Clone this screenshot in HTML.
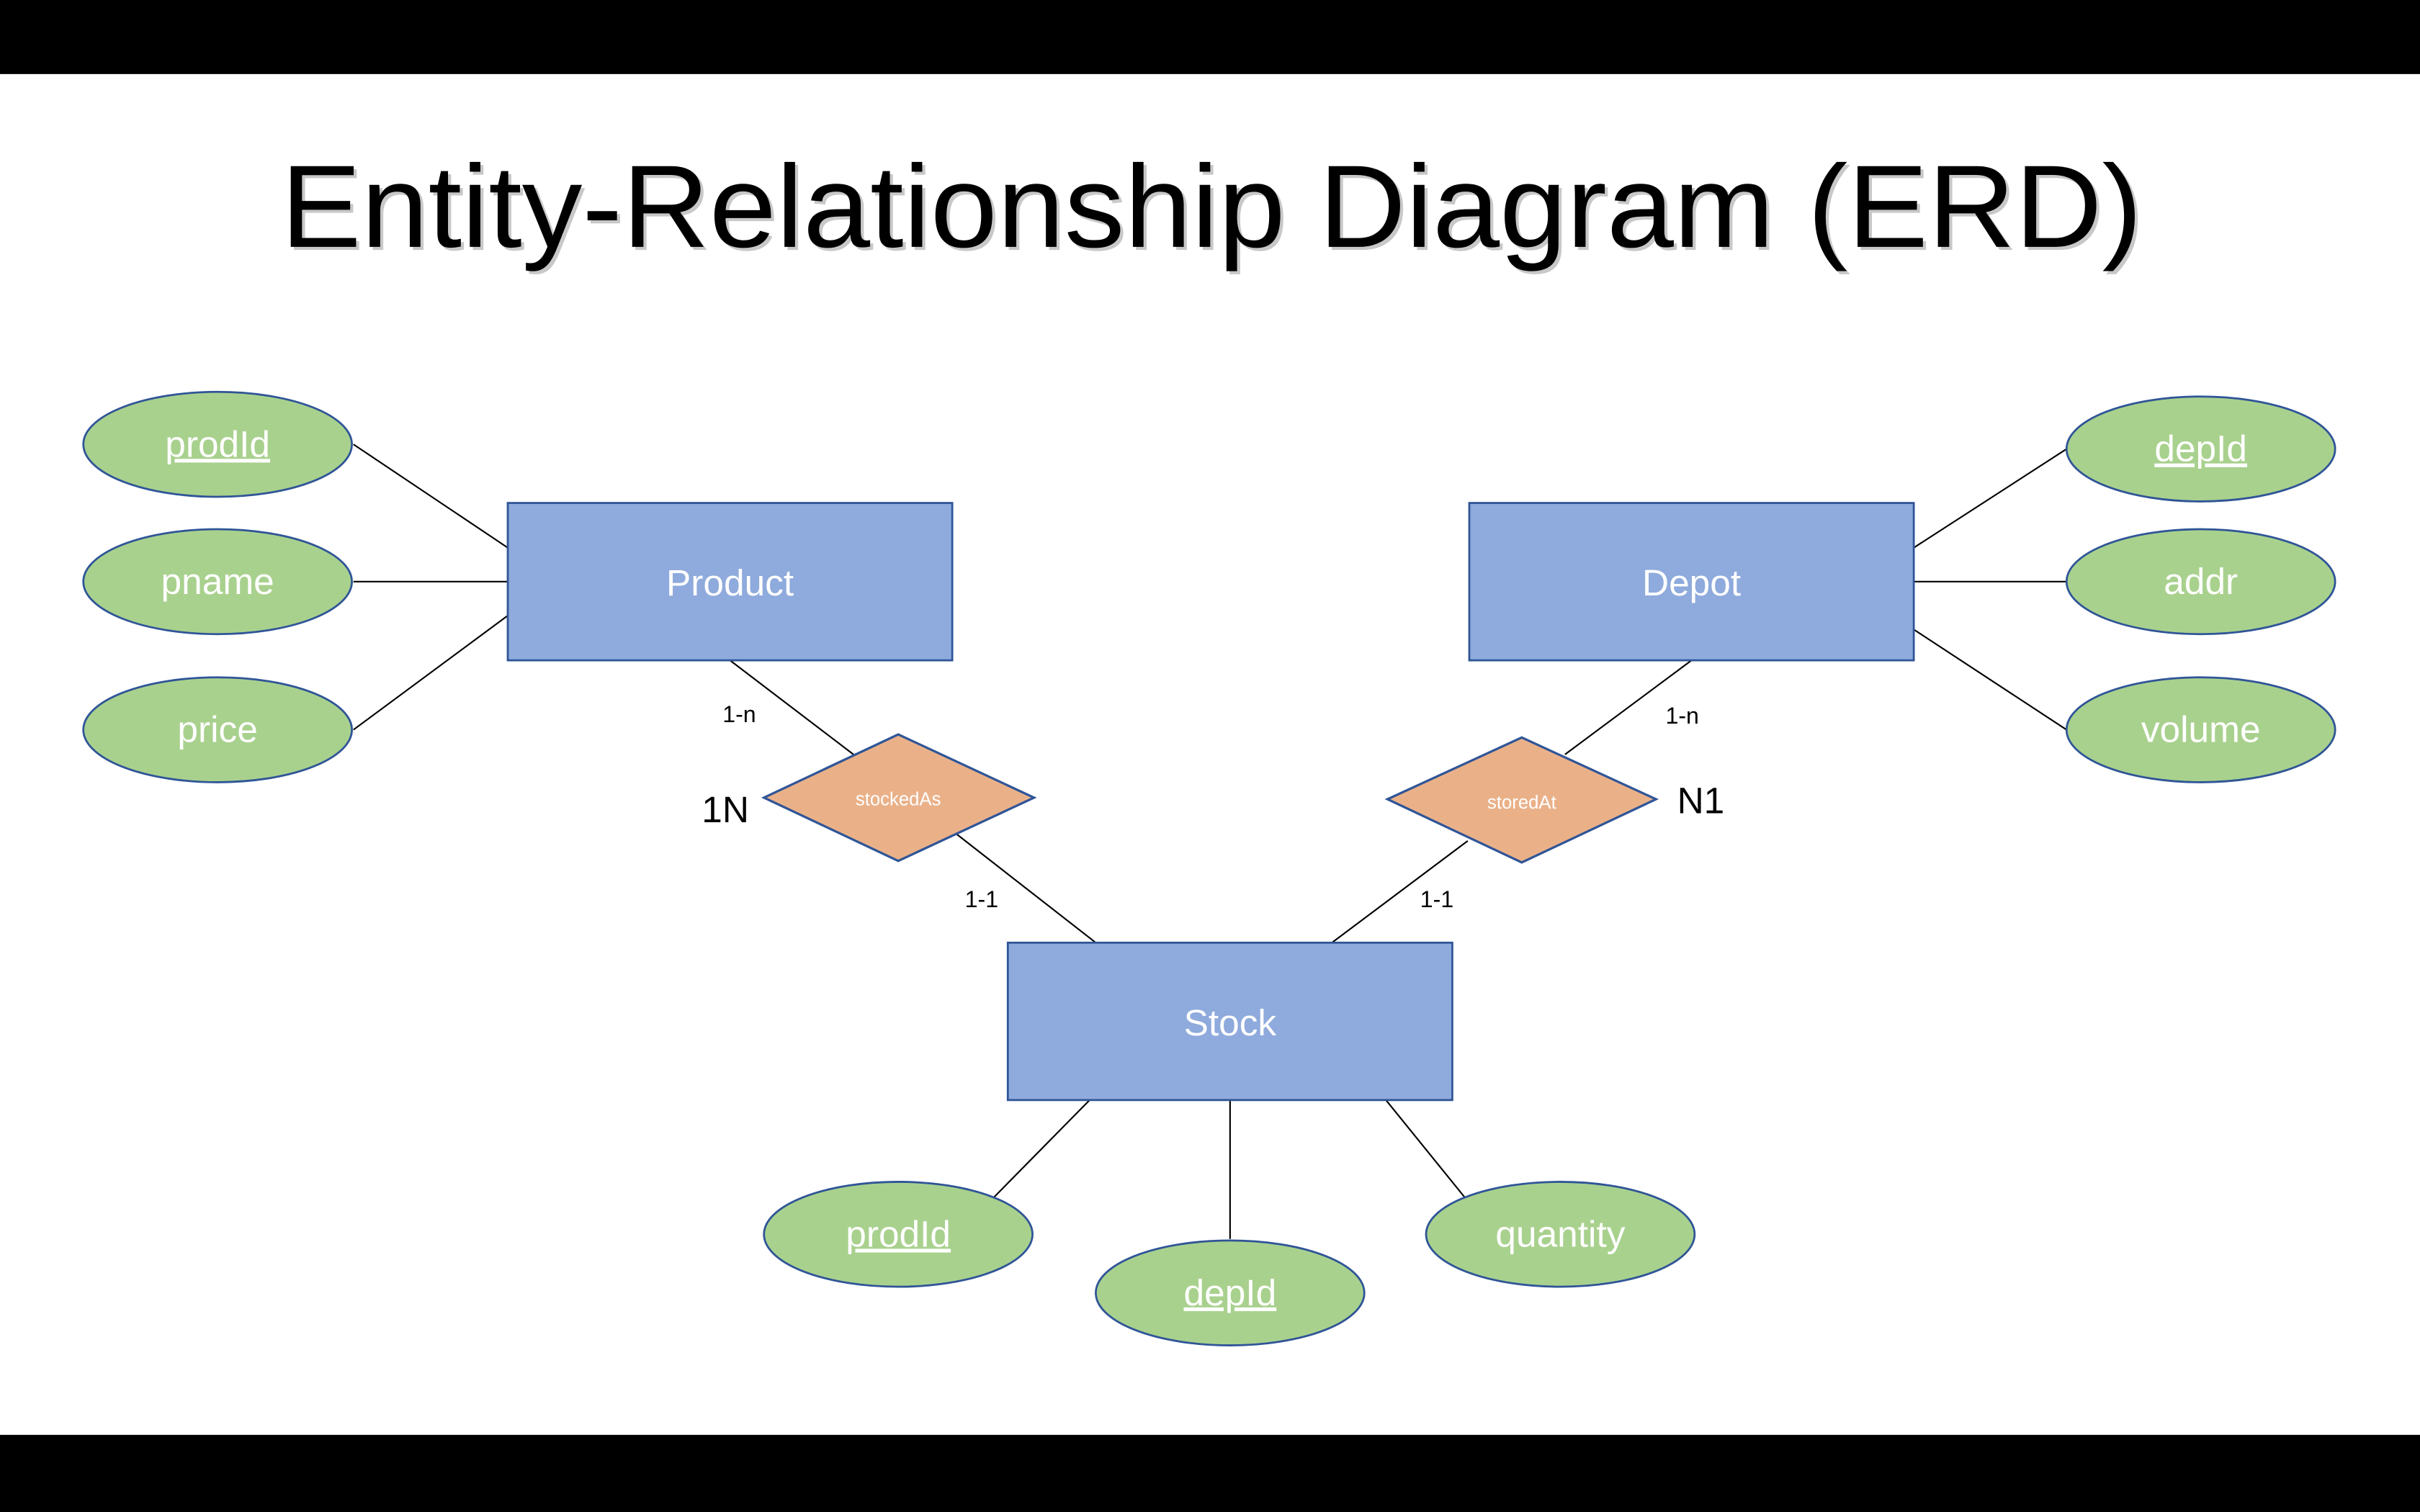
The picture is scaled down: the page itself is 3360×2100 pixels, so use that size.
<!DOCTYPE html>
<html><head><meta charset="utf-8"><style>
html,body{margin:0;padding:0;background:#fff;width:3360px;height:2100px;overflow:hidden}
svg{display:block}
text{font-family:"Liberation Sans",sans-serif}
</style></head><body>
<svg width="3360" height="2100" viewBox="0 0 1568 980" xmlns="http://www.w3.org/2000/svg">
<rect x="0" y="0" width="1568" height="980" fill="#fff"/>
<rect x="0" y="0" width="1568" height="48" fill="#000"/>
<rect x="0" y="930" width="1568" height="50" fill="#000"/>
<text x="182" y="160" font-size="76" textLength="1206" lengthAdjust="spacingAndGlyphs" fill="#c8c8c8" transform="translate(2,2)">Entity-Relationship Diagram (ERD)</text>
<text x="182" y="160" font-size="76" textLength="1206" lengthAdjust="spacingAndGlyphs" fill="#000">Entity-Relationship Diagram (ERD)</text>
<g stroke="#000" stroke-width="1">
<line x1="229" y1="288" x2="329" y2="355"/>
<line x1="229" y1="377" x2="329" y2="377"/>
<line x1="229" y1="473" x2="329" y2="399"/>
<line x1="1240" y1="355" x2="1339" y2="291"/>
<line x1="1240" y1="377" x2="1339" y2="377"/>
<line x1="1240" y1="408" x2="1339" y2="473"/>
<line x1="473" y1="428" x2="553" y2="489"/>
<line x1="619" y1="540" x2="710" y2="611"/>
<line x1="1096" y1="428" x2="1014" y2="489"/>
<line x1="951" y1="545" x2="863" y2="611"/>
<line x1="706" y1="713" x2="644" y2="776"/>
<line x1="797" y1="713" x2="797" y2="803"/>
<line x1="898" y1="713" x2="949" y2="776"/>
</g>
<g fill="#a9d18e" stroke="#2f5597" stroke-width="1.3">
<ellipse cx="141" cy="288" rx="87" ry="34"/>
<ellipse cx="141" cy="377" rx="87" ry="34"/>
<ellipse cx="141" cy="473" rx="87" ry="34"/>
<ellipse cx="1426" cy="291" rx="87" ry="34"/>
<ellipse cx="1426" cy="377" rx="87" ry="34"/>
<ellipse cx="1426" cy="473" rx="87" ry="34"/>
<ellipse cx="582" cy="800" rx="87" ry="34"/>
<ellipse cx="797" cy="838" rx="87" ry="34"/>
<ellipse cx="1011" cy="800" rx="87" ry="34"/>
</g>
<g fill="#8faadc" stroke="#2f5597" stroke-width="1.3">
<rect x="329" y="326" width="288" height="102"/>
<rect x="952" y="326" width="288" height="102"/>
<rect x="653" y="611" width="288" height="102"/>
</g>
<g fill="#eab189" stroke="#2f5597" stroke-width="1.5">
<polygon points="495,517 582,476 670,517 582,558"/>
<polygon points="899,518 986,478 1073,518 986,559"/>
</g>
<g fill="#fff" font-size="24" text-anchor="middle">
<text x="141" y="296" text-decoration="underline">prodId</text>
<text x="141" y="385">pname</text>
<text x="141" y="481">price</text>
<text x="1426" y="299" text-decoration="underline">depId</text>
<text x="1426" y="385">addr</text>
<text x="1426" y="481">volume</text>
<text x="582" y="808" text-decoration="underline">prodId</text>
<text x="797" y="846" text-decoration="underline">depId</text>
<text x="1011" y="808">quantity</text>
<text x="473" y="386">Product</text>
<text x="1096" y="386">Depot</text>
<text x="797" y="671">Stock</text>
<text x="582" y="522" font-size="12">stockedAs</text>
<text x="986" y="524" font-size="12">storedAt</text>
</g>
<g fill="#000" font-size="15" text-anchor="middle">
<text x="479" y="468">1-n</text>
<text x="636" y="588">1-1</text>
<text x="1090" y="469">1-n</text>
<text x="931" y="588">1-1</text>
<text x="470" y="533" font-size="24">1N</text>
<text x="1102" y="527" font-size="24">N1</text>
</g>
</svg>
</body></html>
